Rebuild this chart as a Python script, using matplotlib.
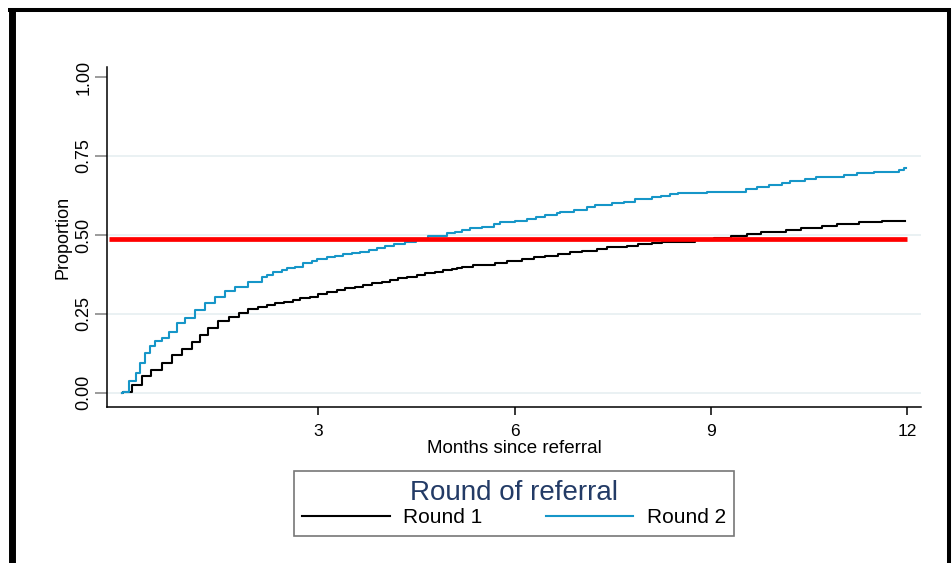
"""
Cumulative proportion referred, by round of referral (Stata-style step curves).
"""

import matplotlib
matplotlib.use("Agg")
import matplotlib.pyplot as plt
from matplotlib.lines import Line2D

plt.rcParams["font.family"] = ["Liberation Sans", "DejaVu Sans"]

# Round 1 (black) step curve: months since referral, proportion
round1_months = [0.00, 0.02, 0.15, 0.30, 0.45, 0.61, 0.76, 0.91, 1.07, 1.19,
                 1.32, 1.47, 1.63, 1.78, 1.93, 2.08, 2.21, 2.34, 2.47, 2.62,
                 2.72, 2.87, 3.00, 3.13, 3.28, 3.41, 3.56, 3.69, 3.82, 3.97,
                 4.10, 4.22, 4.35, 4.51, 4.63, 4.79, 4.91, 5.04, 5.12, 5.19,
                 5.37, 5.70, 5.88, 6.11, 6.29, 6.47, 6.67, 6.85, 7.03, 7.26,
                 7.41, 7.72, 7.89, 8.10, 8.25, 8.75, 9.05, 9.30, 9.55, 9.76,
                 10.14, 10.37, 10.70, 10.93, 11.26, 11.62, 11.97]
round1_prop = [0.000, 0.004, 0.025, 0.052, 0.073, 0.094, 0.120, 0.138, 0.162,
               0.184, 0.205, 0.226, 0.241, 0.254, 0.265, 0.272, 0.278, 0.284,
               0.289, 0.294, 0.300, 0.305, 0.313, 0.319, 0.326, 0.331, 0.336,
               0.342, 0.347, 0.352, 0.358, 0.363, 0.368, 0.373, 0.379, 0.384,
               0.389, 0.392, 0.395, 0.398, 0.405, 0.410, 0.419, 0.424, 0.429,
               0.434, 0.440, 0.445, 0.450, 0.455, 0.461, 0.466, 0.471, 0.474,
               0.479, 0.485, 0.490, 0.497, 0.503, 0.510, 0.516, 0.521, 0.528,
               0.535, 0.540, 0.545, 0.545]

# Round 2 (blue) step curve
round2_months = [0.00, 0.02, 0.10, 0.22, 0.28, 0.35, 0.43, 0.50, 0.61, 0.71,
                 0.84, 0.96, 1.12, 1.27, 1.42, 1.57, 1.73, 1.93, 2.14, 2.21,
                 2.31, 2.44, 2.52, 2.65, 2.77, 2.90, 2.98, 3.13, 3.26, 3.38,
                 3.51, 3.64, 3.77, 3.89, 4.02, 4.15, 4.33, 4.50, 4.68, 4.96,
                 5.09, 5.19, 5.32, 5.50, 5.68, 5.78, 6.01, 6.19, 6.32, 6.47,
                 6.65, 6.70, 6.90, 7.11, 7.23, 7.49, 7.67, 7.84, 8.10, 8.23,
                 8.38, 8.50, 8.94, 9.53, 9.70, 9.88, 10.09, 10.21, 10.44,
                 10.60, 11.03, 11.23, 11.49, 11.87, 11.95, 11.98]
round2_prop = [0.000, 0.004, 0.036, 0.062, 0.094, 0.126, 0.147, 0.165, 0.175,
               0.194, 0.220, 0.236, 0.263, 0.284, 0.303, 0.321, 0.336, 0.352,
               0.368, 0.373, 0.384, 0.389, 0.394, 0.400, 0.410, 0.416, 0.423,
               0.431, 0.434, 0.439, 0.444, 0.447, 0.453, 0.458, 0.465, 0.472,
               0.479, 0.488, 0.497, 0.507, 0.510, 0.516, 0.521, 0.526, 0.535,
               0.540, 0.545, 0.551, 0.556, 0.563, 0.569, 0.574, 0.579, 0.588,
               0.595, 0.600, 0.605, 0.614, 0.619, 0.624, 0.630, 0.632, 0.637,
               0.645, 0.653, 0.658, 0.664, 0.672, 0.677, 0.684, 0.690, 0.695,
               0.700, 0.706, 0.712, 0.712]

reference_level = 0.487
x_ticks = [3, 6, 9, 12]
y_ticks = [0.00, 0.25, 0.50, 0.75, 1.00]
series_labels = ["Round 1", "Round 2"]

BLUE = "#1696c8"
GRID = "#e8f0f2"
NAVY = "#233b66"


def add_frame(fig):
    """Thick black border of the screenshot; bottom edge is cut off."""
    kw = dict(transform=fig.transFigure, color="black",
              solid_capstyle="butt")
    fig.add_artist(Line2D([11.5 / 952, 11.5 / 952], [0, 1 - 8 / 563],
                          lw=5.0, **kw))
    fig.add_artist(Line2D([8 / 952, 950 / 952], [1 - 10 / 563, 1 - 10 / 563],
                          lw=2.9, **kw))
    fig.add_artist(Line2D([948.5 / 952, 948.5 / 952], [0, 1 - 8 / 563],
                          lw=2.9, **kw))


def main():
    fig = plt.figure(figsize=(9.52, 5.63), dpi=100)
    fig.patch.set_facecolor("white")

    ax = fig.add_axes([0.1124, 0.2771, 0.855, 0.6039])
    ax.set_xlim(-0.23, 12.21)
    ax.set_ylim(-0.045, 1.032)

    for y in y_ticks[:-1]:
        ax.axhline(y, color=GRID, lw=1.3, zorder=0)

    ax.step(round1_months, round1_prop, where="post", color="black",
            lw=1.5, zorder=2, label=series_labels[0])
    ax.step(round2_months, round2_prop, where="post", color=BLUE,
            lw=1.5, zorder=2, label=series_labels[1])
    ax.hlines(reference_level, -0.2, 12.0, color="#ff0000", lw=3.4, zorder=3)

    for side in ["top", "right"]:
        ax.spines[side].set_visible(False)
    ax.spines["left"].set_linewidth(1.1)
    ax.spines["bottom"].set_linewidth(1.1)

    ax.set_xticks(x_ticks)
    ax.set_xticklabels([str(t) for t in x_ticks])
    ax.set_yticks(y_ticks)
    ax.set_yticklabels([f"{t:.2f}" for t in y_ticks], rotation=90,
                       va="center")
    ax.tick_params(axis="x", length=6, width=1.1, pad=6, labelsize=12.5)
    ax.tick_params(axis="y", length=9, width=1.1, color="#808080", pad=1.5,
                   labelsize=13)

    ax.set_xlabel("Months since referral", fontsize=13.5, labelpad=1)
    ax.set_ylabel("Proportion", fontsize=13, labelpad=2.5)

    leg = fig.legend(
        loc="center",
        bbox_to_anchor=(294 / 952, 1 - 538 / 563, 440 / 952, 69 / 563),
        mode="expand",
        borderaxespad=0,
        ncol=2,
        title="Round of referral",
        title_fontsize=20,
        fontsize=15,
        handlelength=4.2,
        handletextpad=0.65,
        borderpad=0.4,
        labelspacing=0.2,
        fancybox=False,
        frameon=True,
    )
    leg.get_frame().set_edgecolor("#555555")
    leg.get_frame().set_linewidth(1.2)
    leg.get_title().set_color(NAVY)
    leg._legend_box.sep = 2

    add_frame(fig)

    fig.savefig("out.png", dpi=100)
    plt.close(fig)


if __name__ == "__main__":
    main()
